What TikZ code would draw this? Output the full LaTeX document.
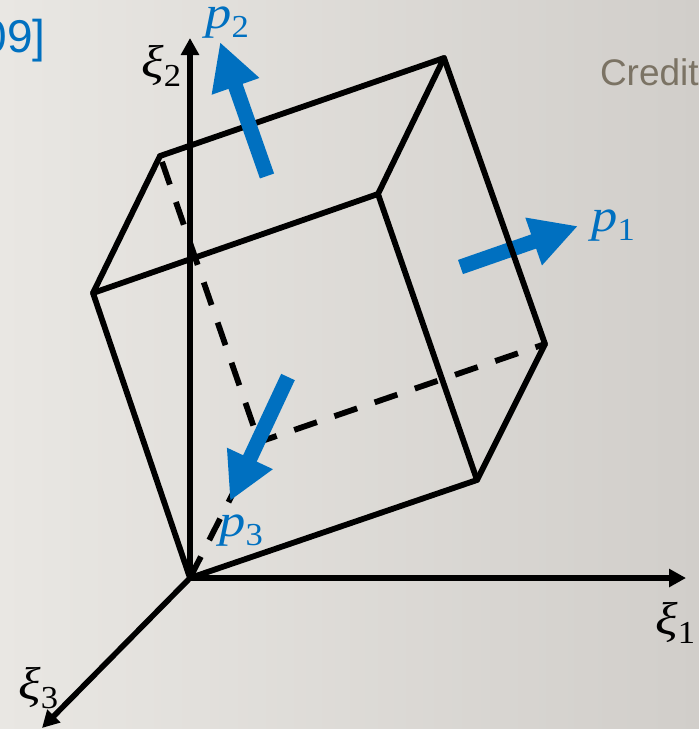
\documentclass[tikz,border=0pt]{standalone}
\usepackage{fontspec}
\setmainfont{Liberation Sans}
\newfontfamily\symit[FakeStretch=1.14]{Liberation Serif Italic}
\newfontfamily\symrm[FakeStretch=1.08]{Liberation Serif}
\usetikzlibrary{arrows.meta}
\definecolor{pblue}{HTML}{0070C0}
\definecolor{credit}{HTML}{7B7364}
\newcommand{\symlab}[2]{{\fontsize{46}{50}\selectfont\symit #1}\kern0.5pt\raisebox{-9pt}{\fontsize{32}{34}\selectfont\symrm #2}}
\tikzset{
  edge/.style={line width=5.8pt,line cap=round,line join=round,black},
  dashedge/.style={line width=5.8pt,black},
  axis/.style={line width=5.6pt,black,-{Triangle[length=17pt,width=17.5pt]}},
  bluearrow/.style={line width=15pt,pblue,-{Triangle[length=47pt,width=47pt]}},
  lab/.style={inner sep=0pt,outer sep=0pt,anchor=base west},
  blab/.style={lab,text=pblue},
  note/.style={lab,font=\fontsize{37}{40}\selectfont}
}
\begin{document}
\begin{tikzpicture}[x=1pt,y=-1pt]
\useasboundingbox (0,0) rectangle (699,729);
\clip (0,0) rectangle (699,729);
\shade[shading angle=105, left color={rgb,255:red,233;green,231;blue,227}, right color={rgb,255:red,209;green,206;blue,202}] (0,0) rectangle (699,729);
\coordinate (O) at (190,578);
\coordinate (X1) at (686,578);
\coordinate (X2) at (190,38);
\coordinate (X3) at (42,728);
\coordinate (A) at (93,293);
\coordinate (B) at (378,194);
\coordinate (C) at (477,480);
\coordinate (D) at (160,156);
\coordinate (E) at (444,58);
\coordinate (F) at (545,344);
\coordinate (G) at (259,442);
\coordinate (P1a) at (460.5,267);
\coordinate (P1b) at (578,226);
\coordinate (P2a) at (267,176);
\coordinate (P2b) at (220,42);
\coordinate (P3a) at (288,377);
\coordinate (P3b) at (230,501);
% p1 lies under the box edges
\draw[bluearrow] (P1a) -- (P1b);
% hidden edges
\draw[dashedge,dash pattern=on 24pt off 18.5pt,dash phase=36.3pt] (D) -- (G);
\draw[dashedge,dash pattern=on 24pt off 18.5pt,dash phase=13.9pt] (F) -- (G);
\draw[dashedge,dash pattern=on 24pt off 18.5pt] (O) -- (G);
% axes
\draw[axis] (O) -- (X1);
\draw[axis] (O) -- (X2);
\draw[axis] (O) -- (X3);
% box
\draw[edge] (A) -- (B) -- (C) -- (O) -- cycle;
\draw[edge] (D) -- (E) -- (F);
\draw[edge] (A) -- (D);
\draw[edge] (B) -- (E);
\draw[edge] (C) -- (F);
% p2, p3 lie over
\draw[bluearrow] (P2a) -- (P2b);
\draw[bluearrow] (P3a) -- (P3b);
% labels
\node[blab] (lp1) at (591,231) {\symlab{p}{1}};
\node[blab] (lp2) at (205,28) {\symlab{p}{2}};
\node[blab] (lp3) at (219,536) {\symlab{p}{3}};
\node[lab] (lx1) at (655,634) {\symlab{ξ}{1}};
\node[lab] (lx2) at (141,77) {\symlab{ξ}{2}};
\node[lab] (lx3) at (18,699) {\symlab{ξ}{3}};
\node[note,font=\fontsize{46}{50}\selectfont,text=pblue,anchor=base east] (ref) at (45.5,52) {09]};
\node[note,text=credit] (cr) at (600,85) {Credit};
\end{tikzpicture}
\end{document}
